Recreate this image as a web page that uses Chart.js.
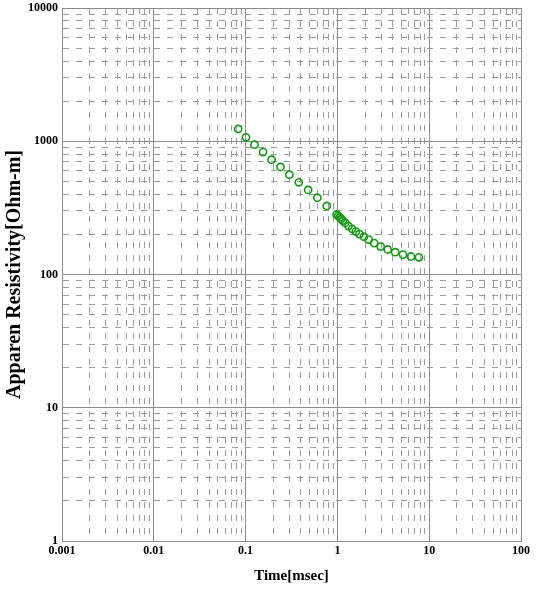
<!DOCTYPE html>
<html>
<head>
<meta charset="utf-8">
<script src="https://cdn.jsdelivr.net/npm/chart.js@4/dist/chart.umd.min.js"></script>
<style>
html,body{margin:0;padding:0;background:#fff;}
#wrap{width:540px;height:590px;position:relative;}
</style>
</head>
<body>
<div id="wrap"><canvas id="c" width="540" height="590"></canvas></div>
<script>
// Time gates [msec]
const timeMs = [0.083, 0.101, 0.125, 0.155, 0.192, 0.24, 0.30, 0.38, 0.48, 0.605, 0.766,
  0.98, 1.018, 1.057, 1.098, 1.146, 1.214, 1.319, 1.447, 1.588, 1.739, 1.942, 2.191,
  2.515, 2.962, 3.532, 4.264, 5.176, 6.328, 7.737];
// Apparent resistivity [Ohm-m]
const resistivity = [1236, 1071, 942, 830, 727, 641, 561, 492, 431, 377, 327,
  282, 275, 268, 261, 254, 244, 231, 220, 210, 201, 192, 183,
  172, 162, 154, 147, 141, 136.5, 134.6];
// Axis decades / tick labels
const xMajorTicks = [0.001, 0.01, 0.1, 1, 10, 100];
const yMajorTicks = [1, 10, 100, 1000, 10000];
const xTickLabels = ['0.001', '0.01', '0.1', '1', '10', '100'];
const yTickLabels = ['1', '10', '100', '1000', '10000'];
const minorMultipliers = [2, 3, 4, 5, 6, 7, 8, 9];

function buildTicks(majors) {
  const t = [];
  majors.forEach((m, i) => {
    t.push({value: m, major: true});
    if (i < majors.length - 1) minorMultipliers.forEach(k => t.push({value: +(m * k).toPrecision(6), major: false}));
  });
  return t;
}
function isMajor(v, majors) {
  return majors.some(m => Math.abs(v / m - 1) < 1e-6);
}
function labelFor(v, majors, labels) {
  const i = majors.findIndex(m => Math.abs(v / m - 1) < 1e-6);
  return i >= 0 ? labels[i] : '';
}

const points = timeMs.map((t, i) => ({x: t, y: resistivity[i]}));
const tickFont = {family: '"Liberation Serif", "Times New Roman", serif', size: 12, weight: 'bold'};
const titleFontFamily = '"Liberation Serif", "Times New Roman", serif';

new Chart(document.getElementById('c'), {
  type: 'scatter',
  data: {
    datasets: [{
      data: points,
      showLine: false,
      pointStyle: 'circle',
      pointRadius: 3.6,
      pointBorderWidth: 1.6,
      pointBorderColor: '#129a12',
      pointBackgroundColor: 'rgba(255,255,255,0)'
    }]
  },
  options: {
    responsive: false,
    animation: false,
    devicePixelRatio: 1,
    layout: {padding: {top: 8, right: 19, bottom: 0, left: 0}},
    plugins: {legend: {display: false}, tooltip: {enabled: false}},
    scales: {
      x: {
        type: 'logarithmic',
        min: 0.001, max: 100,
        afterBuildTicks: s => { s.ticks = buildTicks(xMajorTicks); },
        afterFit: s => { s.height = 49; s.paddingLeft = 0; s.paddingRight = 0; },
        ticks: {
          autoSkip: false, maxRotation: 0, minRotation: 0, padding: 3,
          color: '#000', font: tickFont,
          callback: v => labelFor(v, xMajorTicks, xTickLabels)
        },
        grid: {
          drawTicks: false,
          lineWidth: 1,
          color: ctx => isMajor(ctx.tick.value, xMajorTicks) ? '#8c8c8c' : '#9c9c9c'
        },
        border: {
          display: true, color: '#8c8c8c', width: 1,
          dash: ctx => (ctx.tick && isMajor(ctx.tick.value, xMajorTicks)) ? [] : [6, 7]
        },
        title: {
          display: true, text: 'Time[msec]', color: '#000',
          font: {family: titleFontFamily, size: 15, weight: 'bold'},
          padding: {top: 0, bottom: 5}
        }
      },
      y: {
        type: 'logarithmic',
        min: 1, max: 10000,
        afterBuildTicks: s => { s.ticks = buildTicks(yMajorTicks); },
        afterFit: s => { s.width = 62; s.paddingTop = 0; s.paddingBottom = 0; },
        ticks: {
          autoSkip: false, padding: 4,
          color: '#000', font: tickFont,
          callback: v => labelFor(v, yMajorTicks, yTickLabels)
        },
        grid: {
          drawTicks: false,
          lineWidth: 1,
          color: ctx => isMajor(ctx.tick.value, yMajorTicks) ? '#8c8c8c' : '#9c9c9c'
        },
        border: {
          display: true, color: '#8c8c8c', width: 1,
          dash: ctx => (ctx.tick && isMajor(ctx.tick.value, yMajorTicks)) ? [] : [6, 7]
        },
        title: {
          display: true, text: 'Apparen Resistivity[Ohm-m]', color: '#000',
          font: {family: titleFontFamily, size: 20, weight: 'bold'},
          padding: {top: 3, bottom: 0}
        }
      }
    }
  }
});
</script>
</body>
</html>
